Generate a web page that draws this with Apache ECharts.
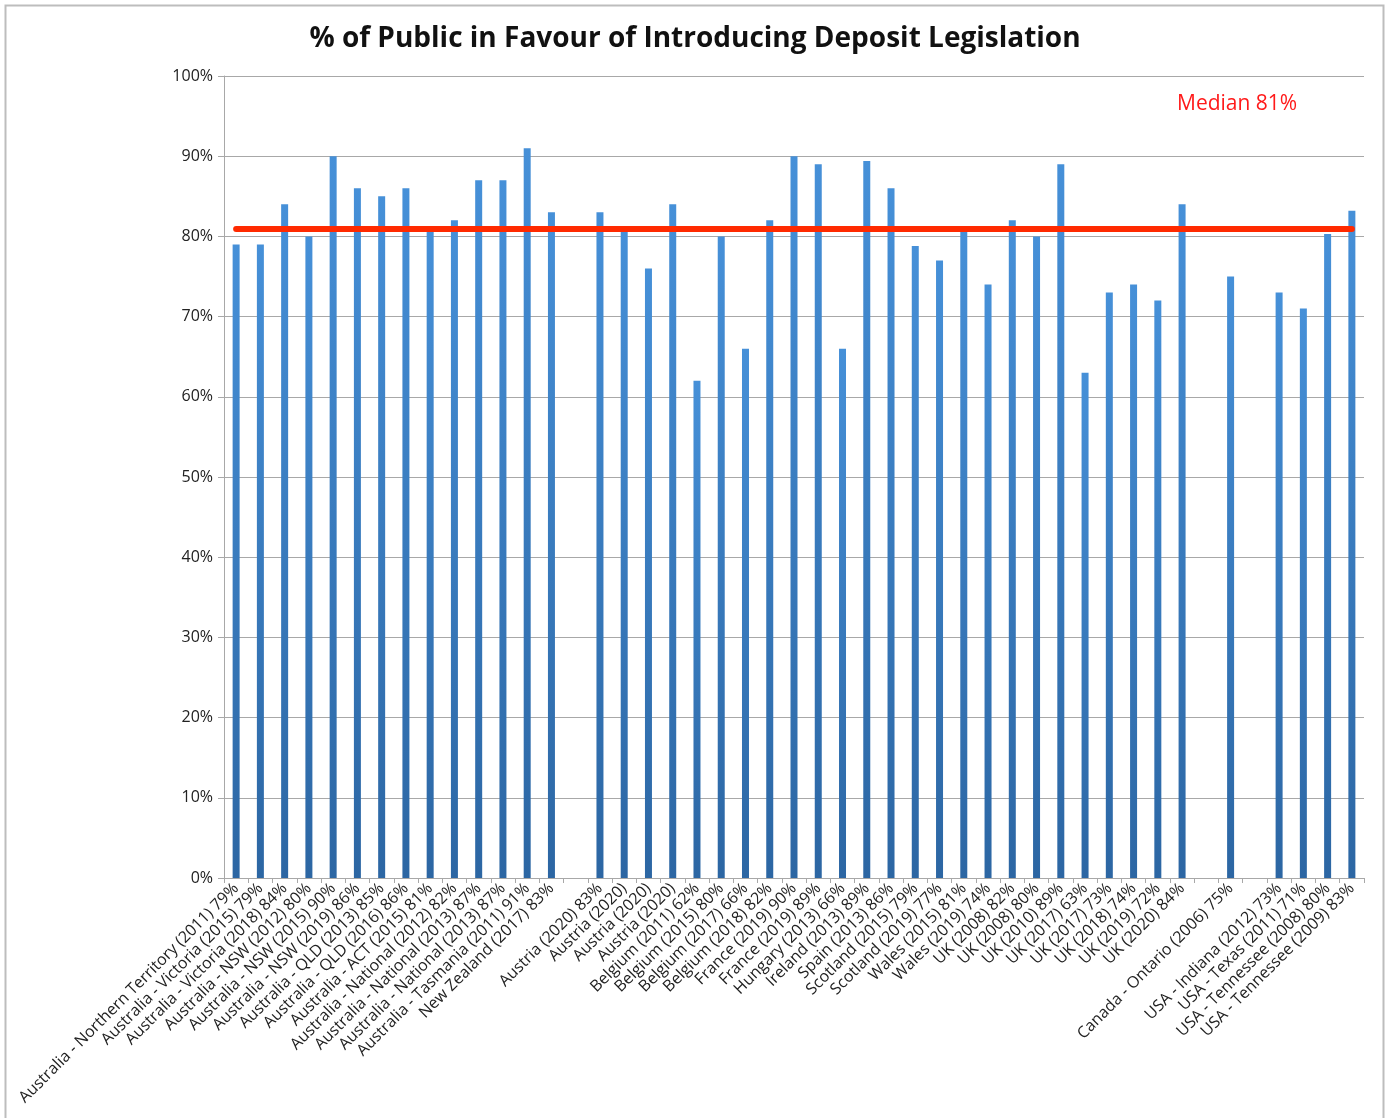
<!DOCTYPE html>
<html>
<head>
<meta charset="utf-8">
<title>Deposit legislation</title>
<script src="https://cdn.jsdelivr.net/npm/echarts@6/dist/echarts.min.js"></script>
<style>
  html, body { margin: 0; padding: 0; background: #fff; }
  #chart { width: 1390px; height: 1118px; }
</style>
</head>
<body>
<div id="chart"></div>
<script>
// category labels (empty string = gap slot)
var categories = [
  'Australia - Northern Territory (2011) 79%',
  'Australia - Victoria (2015) 79%',
  'Australia - Victoria (2018) 84%',
  'Australia - NSW (2012) 80%',
  'Australia - NSW (2015) 90%',
  'Australia - NSW (2019) 86%',
  'Australia - QLD (2013) 85%',
  'Australia - QLD (2016) 86%',
  'Australia - ACT (2015) 81%',
  'Australia - National (2012) 82%',
  'Australia - National (2013) 87%',
  'Australia - National (2013) 87%',
  'Australia - Tasmania (2011) 91%',
  'New Zealand (2017) 83%',
  '',
  'Austria (2020) 83%',
  'Austria (2020)',
  'Austria (2020)',
  'Austria (2020)',
  'Belgium (2011) 62%',
  'Belgium (2015) 80%',
  'Belgium (2017) 66%',
  'Belgium (2018) 82%',
  'France (2019) 90%',
  'France (2019) 89%',
  'Hungary (2013) 66%',
  'Ireland (2013) 89%',
  'Spain (2013) 86%',
  'Scotland (2015) 79%',
  'Scotland (2019) 77%',
  'Wales (2015) 81%',
  'Wales (2019) 74%',
  'UK (2008) 82%',
  'UK (2008) 80%',
  'UK (2010) 89%',
  'UK (2017) 63%',
  'UK (2017) 73%',
  'UK (2018) 74%',
  'UK (2019) 72%',
  'UK (2020) 84%',
  '',
  'Canada - Ontario (2006) 75%',
  '',
  'USA - Indiana (2012) 73%',
  'USA - Texas (2011) 71%',
  'USA - Tennessee (2008) 80%',
  'USA - Tennessee (2009) 83%'
];

// % in favour
var values = [
  79, 79, 84, 80, 90, 86, 85, 86, 81, 82, 87, 87, 91, 83,
  null,
  83, 81, 76, 84, 62, 80, 66, 82, 90, 89, 66, 89.4, 86, 78.8, 77,
  81, 74, 82, 80, 89, 63, 73, 74, 72, 84,
  null,
  75,
  null,
  73, 71, 80.3, 83.2
];

var median = 81;
var yTicks = [0, 10, 20, 30, 40, 50, 60, 70, 80, 90, 100];

var chart = echarts.init(document.getElementById('chart'));

var option = {
  backgroundColor: '#fff',
  animation: false,
  title: [
    {
      text: '% of Public in Favour of Introducing Deposit Legislation',
      left: 'center',
      top: 20,
      textStyle: {
        fontFamily: 'Open Sans',
        fontSize: 28,
        fontWeight: 'bold',
        color: '#111'
      }
    },
    {
      text: 'Median 81%',
      left: 1172,
      top: 89,
      textStyle: {
        fontFamily: 'Open Sans',
        fontSize: 21,
        fontWeight: 'normal',
        color: '#ff1a1a'
      }
    }
  ],
  graphic: [
    {
      type: 'rect',
      shape: { x: 5.5, y: 5.5, width: 1378, height: 1130 },
      style: { fill: null, stroke: '#bdbdbd', lineWidth: 2 },
      silent: true
    }
  ],
  grid: {
    left: 224,
    right: 26,
    top: 76,
    bottom: 240
  },
  xAxis: {
    type: 'category',
    data: categories,
    axisLine: { lineStyle: { color: '#a8a8a8', width: 1 } },
    axisTick: { show: true, alignWithLabel: false, length: 5, lineStyle: { color: '#a8a8a8' } },
    axisLabel: {
      interval: 0,
      rotate: 45,
      margin: 8,
      fontFamily: 'Open Sans',
      fontSize: 16,
      color: '#222'
    }
  },
  yAxis: {
    type: 'value',
    min: yTicks[0],
    max: yTicks[yTicks.length - 1],
    interval: 10,
    axisLine: { show: true, lineStyle: { color: '#a8a8a8' } },
    axisTick: { show: true, length: 6, lineStyle: { color: '#a8a8a8' } },
    splitLine: { lineStyle: { color: '#a8a8a8', width: 1 } },
    axisLabel: {
      formatter: '{value}%',
      margin: 11,
      fontFamily: 'Open Sans',
      fontSize: 16,
      color: '#222'
    }
  },
  series: [
    {
      type: 'bar',
      data: values,
      barWidth: 7,
      itemStyle: {
        color: new echarts.graphic.LinearGradient(0, 0, 0, 1, [
          { offset: 0, color: '#4690d8' },
          { offset: 1, color: '#2c66a3' }
        ])
      },
      markLine: {
        silent: true,
        symbol: 'none',
        label: { show: false },
        lineStyle: { color: '#ff2a00', width: 6, type: 'solid', cap: 'round' },
        data: [
          [
            { coord: [0, median] },
            { coord: [categories.length - 1, median] }
          ]
        ]
      }
    }
  ]
};

chart.setOption(option);
</script>
</body>
</html>
